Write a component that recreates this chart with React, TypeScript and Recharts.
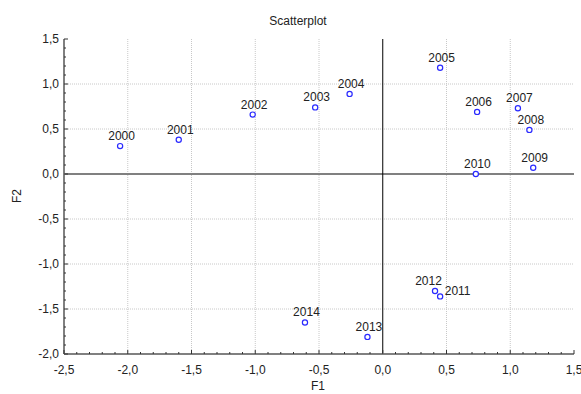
import React from 'react';
import { ScatterChart, Scatter, XAxis, YAxis, ReferenceLine, LabelList } from 'recharts';

const years = ['2000', '2001', '2002', '2003', '2004', '2005', '2006', '2007', '2008', '2009', '2010', '2011', '2012', '2013', '2014'];
const f1 = [-2.06, -1.6, -1.02, -0.53, -0.26, 0.45, 0.74, 1.06, 1.15, 1.18, 0.73, 0.45, 0.41, -0.12, -0.61];
const f2 = [0.31, 0.38, 0.66, 0.74, 0.89, 1.18, 0.69, 0.73, 0.49, 0.07, 0.0, -1.36, -1.3, -1.81, -1.65];

const xTicks = [-2.5, -2.4, -2.3, -2.2, -2.1, -2.0, -1.9, -1.8, -1.7, -1.6, -1.5, -1.4, -1.3, -1.2, -1.1, -1.0, -0.9, -0.8, -0.7, -0.6, -0.5, -0.4, -0.3, -0.2, -0.1, 0.0, 0.1, 0.2, 0.3, 0.4, 0.5, 0.6, 0.7, 0.8, 0.9, 1.0, 1.1, 1.2, 1.3, 1.4, 1.5];
const yTicks = [-2.0, -1.9, -1.8, -1.7, -1.6, -1.5, -1.4, -1.3, -1.2, -1.1, -1.0, -0.9, -0.8, -0.7, -0.6, -0.5, -0.4, -0.3, -0.2, -0.1, 0.0, 0.1, 0.2, 0.3, 0.4, 0.5, 0.6, 0.7, 0.8, 0.9, 1.0, 1.1, 1.2, 1.3, 1.4, 1.5];
const xGrid = [-2.0, -1.5, -1.0, -0.5, 0.5, 1.0];
const yGrid = [-1.5, -1.0, -0.5, 0.5, 1.0];

const data = years.map((y, i) => ({ year: y, x: f1[i], y: f2[i] }));

// label nudges for the crowded points
const nudge: Record<string, [number, number]> = {
  '2011': [16, 5],
  '2012': [-8, 0],
};

const isMajor = (v: number) => Math.abs(v * 2 - Math.round(v * 2)) < 1e-6;
const fmt = (v: number) => v.toFixed(1).replace('.', ',');
const FONT = 'Arial, "Liberation Sans", sans-serif';

const BottomTick = (props: any) => {
  const { x, y, payload } = props;
  const major = isMajor(payload.value);
  return (
    <g>
      <line x1={x} x2={x} y1={y} y2={y - (major ? 4 : 2)} stroke="#333" />
      {major && (
        <text x={x} y={y + 20} textAnchor="middle" fontSize={12} fill="#222" fontFamily={FONT}>
          {fmt(payload.value)}
        </text>
      )}
    </g>
  );
};

const TopTick = (props: any) => {
  const { x, y, payload } = props;
  const major = isMajor(payload.value);
  return <line x1={x} x2={x} y1={y} y2={y + (major ? 4 : 2)} stroke="#333" />;
};

const LeftTick = (props: any) => {
  const { x, y, payload } = props;
  const major = isMajor(payload.value);
  return (
    <g>
      <line x1={x} x2={x + (major ? 4 : 2)} y1={y} y2={y} stroke="#333" />
      {major && (
        <text x={x - 5} y={y + 4} textAnchor="end" fontSize={12} fill="#222" fontFamily={FONT}>
          {fmt(payload.value)}
        </text>
      )}
    </g>
  );
};

const RightTick = (props: any) => {
  const { x, y, payload } = props;
  const major = isMajor(payload.value);
  return <line x1={x} x2={x - (major ? 4 : 2)} y1={y} y2={y} stroke="#111" />;
};

const YearLabel = (props: any) => {
  const { x, y, width, value } = props;
  const cx = x + (width || 0) / 2;
  const [dx, dy] = nudge[value] || [0, 0];
  return (
    <text x={cx + 1.5 + dx} y={y - 1.5 + dy} textAnchor="middle" fontSize={12} fill="#222" fontFamily={FONT}>
      {value}
    </text>
  );
};

const Marker = (props: any) => {
  const { cx, cy } = props;
  return <circle cx={cx} cy={cy} r={2.6} fill="#fff" stroke="#2a2aff" strokeWidth={1.2} />;
};

export default function App() {
  return (
    <div style={{ position: 'absolute', left: 0, top: 0, width: 581, height: 394, background: '#fff', fontFamily: FONT }}>
      <div style={{ position: 'absolute', left: 0, width: 596, top: 14, textAlign: 'center', fontSize: 12, color: '#222' }}>Scatterplot</div>
      <div style={{ position: 'absolute', left: 303, width: 30, top: 379, textAlign: 'center', fontSize: 12, color: '#222' }}>F1</div>
      <div style={{ position: 'absolute', left: 2, width: 30, top: 189, textAlign: 'center', fontSize: 12, color: '#222', transform: 'rotate(-90deg)' }}>F2</div>
      <ScatterChart width={581} height={394} margin={{ top: 39, right: 7, bottom: 10, left: 0 }} style={{ position: 'absolute', left: 0, top: 0 }}>
        <XAxis
          type="number"
          dataKey="x"
          domain={[-2.5, 1.5]}
          ticks={xTicks}
          interval={0}
          height={30}
          tickSize={0}
          tickMargin={0}
          tickLine={false}
          tick={<BottomTick />}
          axisLine={{ stroke: '#808080', strokeWidth: 2 }}
          allowDataOverflow
        />
        <XAxis
          xAxisId="top"
          orientation="top"
          type="number"
          domain={[-2.5, 1.5]}
          ticks={xTicks}
          interval={0}
          height={0}
          tickSize={0}
          tickMargin={0}
          tickLine={false}
          tick={<TopTick />}
          axisLine={{ stroke: '#808080', strokeWidth: 2 }}
          allowDataOverflow
        />
        <YAxis
          type="number"
          dataKey="y"
          domain={[-2, 1.5]}
          ticks={yTicks}
          interval={0}
          width={64}
          tickSize={0}
          tickMargin={0}
          tickLine={false}
          tick={<LeftTick />}
          axisLine={{ stroke: '#808080', strokeWidth: 2 }}
          allowDataOverflow
        />
        <YAxis
          yAxisId="right"
          orientation="right"
          type="number"
          domain={[-2, 1.5]}
          ticks={yTicks}
          interval={0}
          width={0}
          tickSize={0}
          tickMargin={0}
          tickLine={false}
          tick={<RightTick />}
          axisLine={{ stroke: '#111', strokeWidth: 1 }}
          allowDataOverflow
        />
        {xGrid.map((v) => (
          <ReferenceLine key={'gx' + v} x={v} stroke="#c8c8c8" strokeDasharray="1 1" />
        ))}
        {yGrid.map((v) => (
          <ReferenceLine key={'gy' + v} y={v} stroke="#c8c8c8" strokeDasharray="1 1" />
        ))}
        <ReferenceLine y={0} stroke="#808080" strokeWidth={2} />
        <ReferenceLine x={0} stroke="#000" strokeWidth={1} />
        <Scatter data={data} shape={<Marker />} isAnimationActive={false}>
          <LabelList dataKey="year" content={<YearLabel />} />
        </Scatter>
      </ScatterChart>
    </div>
  );
}
